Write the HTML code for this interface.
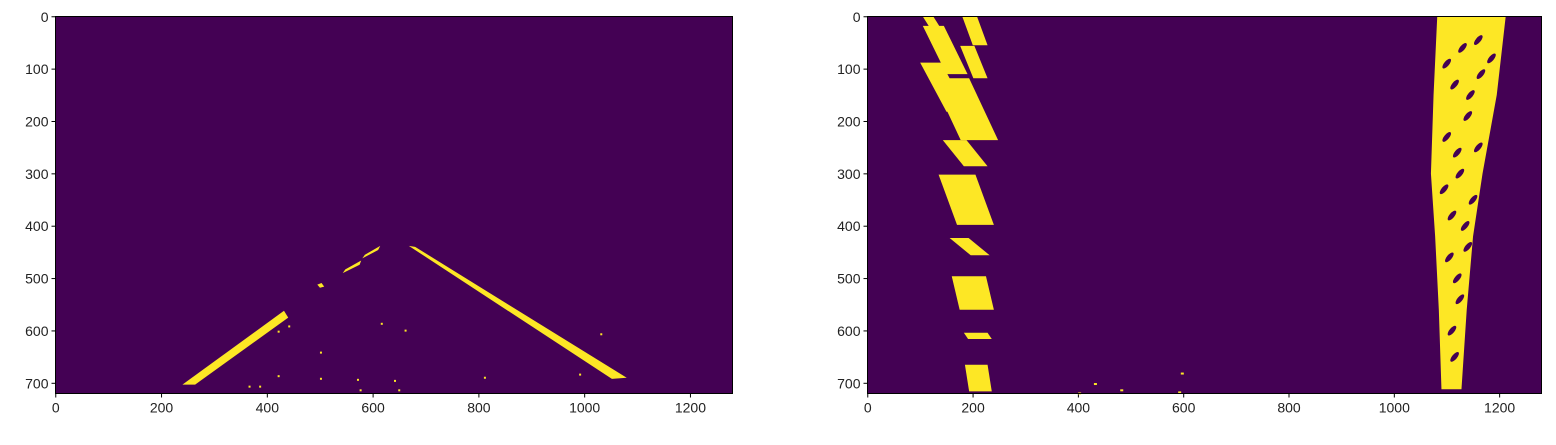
<!DOCTYPE html>
<html><head><meta charset="utf-8"><style>
html,body{margin:0;padding:0;background:#fff;}
svg text{font-family:"Liberation Sans","DejaVu Sans",sans-serif;font-size:14px;fill:#222;}
</style></head><body>
<svg id="fig" width="1556" height="440" xmlns="http://www.w3.org/2000/svg"></svg>
<script>
// Data (image coordinates: x 0..1280, y 0..720)
const xTicks = [0,200,400,600,800,1000,1200];
const yTicks = [0,100,200,300,400,500,600,700];
const leftPanelShapes = [
  [[240,703],[264,703],[440,575],[432,562]],
  [[495,512],[503,509],[508,516],[500,518]],
  [[543,490],[548,483],[578,466],[575,474]],
  [[580,462],[585,455],[614,438],[610,446]],
  [[668,438],[680,440],[1080,690],[1052,692]]
];
const leftPanelDots = [[615,585],[660,598],[500,640],[1030,605],[990,682],[420,685],[500,690],[570,692],[640,694],[810,688],[365,705],[385,705],[575,712],[648,712],[440,590],[420,600]];
// right panel: right lane outline (left edge then right edge)
const rightLaneLeft = [[1082,0],[1075,150],[1070,300],[1078,420],[1085,560],[1090,712]];
const rightLaneRight = [[1212,0],[1195,150],[1168,300],[1150,420],[1138,560],[1128,712]];
// left lane blobs: [x0, x1, y0, y1, slant]
const leftBlobs = [
  [105,150,0,40,-25],[180,228,0,55,-20],[105,190,18,110,-45],[176,228,56,118,-25],
  [100,190,88,182,-50],[122,248,118,236,-55],[143,228,236,286,-40],[135,240,302,398,-35],
  [156,232,423,456,-40],[160,240,496,560,-15],[183,236,604,616,-8],[185,236,665,716,-8]
];
const rightHoles = [[1130,60],[1160,45],[1115,130],[1165,110],[1140,190],[1100,230],[1160,250],[1125,300],[1150,350],[1110,380],[1140,440],[1120,500],
  [1100,90],[1185,80],[1145,150],[1120,260],[1095,330],[1135,400],[1105,460],[1125,540],[1110,600],[1115,650]];

const NS="http://www.w3.org/2000/svg";
const svg=document.getElementById('fig');
function mk(tag,attrs,parent){const e=document.createElementNS(NS,tag);for(const k in attrs)e.setAttribute(k,attrs[k]);(parent||svg).appendChild(e);return e;}
const PURPLE="#440154", YELLOW="#fde725";

function panel(name,L,R,T,B){
  const g=mk('g',{});
  
  
  const sx=v=>L+v*(R-L)/1280, sy=v=>T+v*(B-T)/720;
  const bg=mk('rect',{x:L,y:T,width:R-L,height:B-T,fill:PURPLE},g);
  
  
  xTicks.forEach(t=>{
    const x=sx(t+0.5);
    mk('line',{x1:x,x2:x,y1:B,y2:B+4,stroke:'#000','stroke-width':1},g);
    const tx=mk('text',{x:x,y:B+19,'text-anchor':'middle'},g);tx.textContent=t;
    
    
  });
  yTicks.forEach(t=>{
    const y=sy(t+0.5);
    mk('line',{x1:L-4,x2:L,y1:y,y2:y,stroke:'#000','stroke-width':1},g);
    const tx=mk('text',{x:L-7,y:y+5,'text-anchor':'end'},g);tx.textContent=t;
    
    
  });
  return {g,sx,sy,L,R,T,B};
}
function frame(p){
  const f=mk('rect',{x:p.L,y:p.T,width:p.R-p.L,height:p.B-p.T,fill:'none',stroke:'#000','stroke-width':1},p.g);
  
  
}

// Left panel
const p1=panel('left-panel',55.5,732.5,16.5,393.5);
leftPanelShapes.forEach(s=>{
  const e=mk('polygon',{points:s.map(q=>p1.sx(q[0])+','+p1.sy(q[1])).join(' '),fill:YELLOW},p1.g);
  
  
});
leftPanelDots.forEach(d=>{
  const e=mk('rect',{x:p1.sx(d[0]),y:p1.sy(d[1]),width:2,height:2,fill:YELLOW},p1.g);
  
  
});
frame(p1);

// Right panel
const p2=panel('right-panel',867.5,1541.5,16.5,393.5);
const lanePts=rightLaneLeft.concat(rightLaneRight.slice().reverse());
const rl=mk('polygon',{points:lanePts.map(q=>p2.sx(q[0])+','+p2.sy(q[1])).join(' '),fill:YELLOW},p2.g);


rightHoles.forEach(h=>{
  const e=mk('ellipse',{cx:p2.sx(h[0]),cy:p2.sy(h[1]),rx:6,ry:2.5,fill:PURPLE,transform:`rotate(-50 ${p2.sx(h[0])} ${p2.sy(h[1])})`},p2.g);
  
  
});
leftBlobs.forEach(b=>{
  const [x0,x1,y0,y1,s]=b;
  const pts=[[x0,y0],[x1+s,y0],[x1,y1],[x0-s,y1]];
  const e=mk('polygon',{points:pts.map(q=>p2.sx(q[0])+','+p2.sy(q[1])).join(' '),fill:YELLOW},p2.g);
  
  
});
[[430,700],[480,712],[595,680],[400,718],[590,716]].forEach(d=>{
  const e=mk('rect',{x:p2.sx(d[0]),y:p2.sy(d[1]),width:3,height:2,fill:YELLOW},p2.g);
  
  
});
frame(p2);
</script>
</body></html>
